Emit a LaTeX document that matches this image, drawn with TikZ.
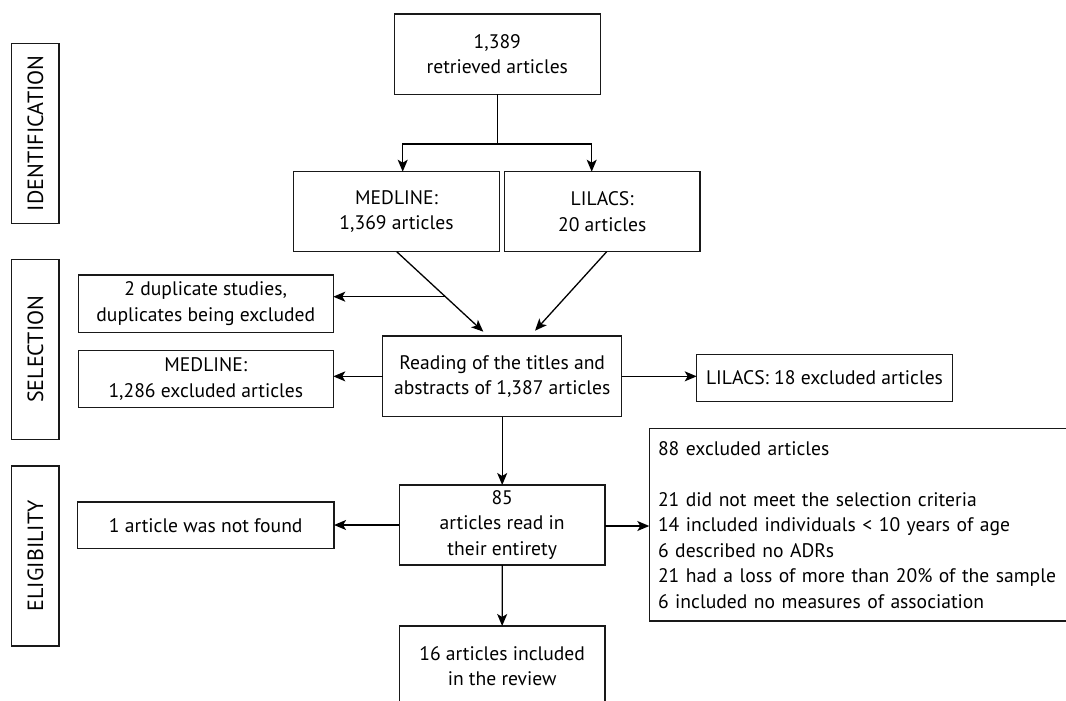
\documentclass[tikz,border=0pt]{standalone}
\usepackage{fontspec}
\setmainfont{PT Sans}
\usetikzlibrary{arrows.meta,calc}
\begin{document}
\begin{tikzpicture}[x=1pt,y=-1pt,
  box/.style={draw=black!90,line width=1.3pt,inner sep=0pt,outer sep=0pt,align=center,
    font=\fontsize{19.6}{25.5}\selectfont},
  side/.style={box,rotate=90,minimum width=180pt,minimum height=47.3pt,font=\fontsize{22}{25}\selectfont},
  arr/.style={line width=1.3pt,-{Stealth[length=12pt,width=10pt,inset=3pt]}},
  ln/.style={line width=1.3pt}]
\useasboundingbox (0,0) rectangle (1066,701);
\clip (0,0) rectangle (1066,701);
\node[box,minimum width=206pt,minimum height=80.3pt] (top) at (497.3,54.2) {1,389\\retrieved articles};
\node[box,minimum width=205.6pt,minimum height=80pt] (med) at (396.5,211.7) {MEDLINE:\\1,369 articles};
\node[box,minimum width=195.7pt,minimum height=80pt] (lil) at (602.2,211.7) {LILACS:\\20 articles};
\node[box,minimum width=255pt,minimum height=57.3pt] (dup) at (205.8,303.7) {2 duplicate studies,\\duplicates being excluded};
\node[box,minimum width=239pt,minimum height=80.7pt] (read) at (502.2,376.35) {Reading of the titles and\\abstracts of 1,387 articles};
\node[box,minimum width=255pt,minimum height=56.6pt] (mexc) at (205.8,379) {MEDLINE:\\1,286 excluded articles};
\node[box,minimum width=255.6pt,minimum height=47.4pt] (lexc) at (824.5,378) {LILACS: 18 excluded articles};
\node[box,minimum width=205.7pt,minimum height=80pt] (a85) at (502.2,525) {85\\articles read in\\their entirety};
\node[box,minimum width=256.7pt,minimum height=46.7pt] (notf) at (205.7,525.3) {1 article was not found};
\node[box,anchor=north west,minimum width=430pt,minimum height=192.7pt,text width=413pt,inner xsep=8.7pt,align=left] (x88) at (649.3,428.3)
  {88 excluded articles\\[25.5pt]21 did not meet the selection criteria\\14 included individuals < 10 years of age\\6 described no ADRs\\21 had a loss of more than 20\% of the sample\\6 included no measures of association};
\node[box,anchor=north west,minimum width=205.7pt,minimum height=80pt] (inc) at (399.3,626) {16 articles included\\in the review};
\node[side] (sid) at (35.3,133.3) {IDENTIFICATION};
\node[side] (ssel) at (35.3,349.2) {SELECTION};
\node[side] (seli) at (35.3,555.9) {ELIGIBILITY};
% connectors
\coordinate (sp) at (497.3,144);
\draw[ln] (top.south) -- (sp);
\draw[arr] (sp) -| ($(med.north)+(6.2,0)$);
\draw[arr] (sp) -| ($(lil.north)+(-10.5,0)$);
\coordinate (ma) at ($(med.south)+(0.2,0)$);
\coordinate (mt) at ($(read.north)+(-18.9,-4.3)$);
\draw[arr] (ma) -- (mt);
\coordinate (la) at ($(lil.south)+(4.5,0)$);
\draw[arr] (la) -- ($(read.north)+(32.8,-5.3)$);
\coordinate (br) at ($(ma)!0.5625!(mt)$);
\draw[arr] (br) -- (br -| dup.east);
\draw[arr] (read.west) -- (read.west -| mexc.east);
\draw[arr] (read.east) -- (read.east -| lexc.west);
\draw[arr] (read.south) -- (a85.north);
\draw[arr] ($(a85.east)+(0,1)$) -- ($(a85.east -| x88.west)+(0,1)$);
\draw[arr] (a85.west) -- (a85.west -| notf.east);
\draw[arr] (a85.south) -- (inc.north);
\end{tikzpicture}
\end{document}
